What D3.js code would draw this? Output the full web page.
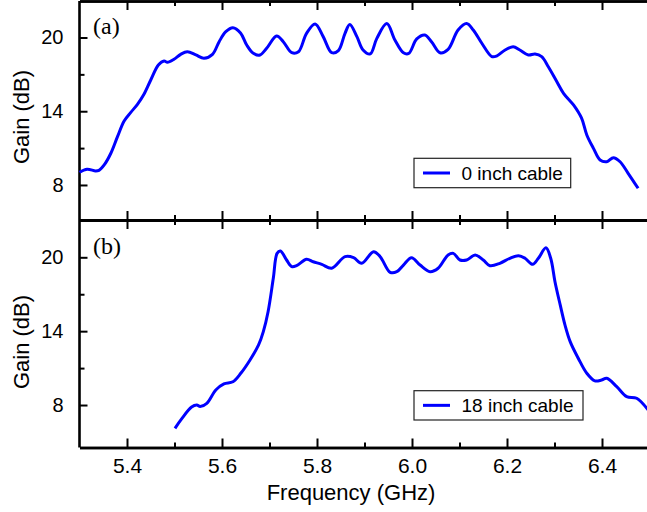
<!DOCTYPE html>
<html><head><meta charset="utf-8">
<script src="https://cdn.jsdelivr.net/npm/d3@7"></script>
<style>body{margin:0;background:#fff}</style>
</head><body><svg id="c" width="647" height="512"></svg>
<script>
// ---- data ----
const freqA = [5.300,5.316,5.334,5.341,5.352,5.366,5.380,5.394,5.408,5.422,5.436,5.450,5.466,5.478,5.485,5.499,5.513,5.527,5.545,5.562,5.580,5.594,5.608,5.623,5.639,5.652,5.666,5.680,5.694,5.715,5.729,5.747,5.761,5.778,5.796,5.813,5.831,5.845,5.859,5.869,5.884,5.897,5.912,5.926,5.947,5.964,5.982,5.993,6.010,6.027,6.041,6.059,6.076,6.097,6.115,6.129,6.147,6.168,6.178,6.196,6.213,6.227,6.245,6.259,6.273,6.287,6.305,6.319,6.340,6.357,6.368,6.382,6.396,6.410,6.424,6.438,6.455,6.476];
const gainA = [9.03,9.28,9.14,9.19,9.63,10.58,11.93,13.21,13.91,14.56,15.40,16.54,17.76,18.09,17.98,18.23,18.63,18.84,18.58,18.31,18.63,19.66,20.47,20.80,20.37,19.39,18.71,18.58,19.12,20.12,19.66,18.76,18.84,20.34,21.10,20.07,18.76,18.93,20.34,21.06,20.07,18.98,18.66,19.93,21.14,19.80,18.76,18.70,19.88,20.20,19.66,18.76,19.04,20.61,21.14,20.61,19.53,18.45,18.49,18.98,19.25,18.98,18.58,18.66,18.44,17.62,16.40,15.46,14.51,13.43,12.07,10.98,10.03,9.89,10.22,9.89,8.95,7.73];
const freqB = [5.501,5.515,5.536,5.547,5.554,5.568,5.587,5.604,5.623,5.640,5.659,5.677,5.687,5.697,5.708,5.716,5.723,5.736,5.747,5.757,5.778,5.792,5.810,5.831,5.859,5.877,5.894,5.919,5.933,5.954,5.968,5.982,5.999,6.017,6.038,6.055,6.076,6.087,6.101,6.115,6.133,6.150,6.164,6.185,6.206,6.224,6.238,6.254,6.266,6.282,6.292,6.301,6.312,6.322,6.333,6.350,6.368,6.385,6.399,6.410,6.431,6.452,6.473,6.497];
const gainB = [6.11,6.88,7.84,8.00,7.88,8.14,9.22,9.71,9.89,10.60,11.66,12.88,13.96,15.58,18.29,20.32,20.51,19.78,19.24,19.32,19.84,19.64,19.43,19.11,20.05,19.97,19.51,20.45,20.05,18.78,18.83,19.37,19.97,19.37,18.83,19.11,20.19,20.32,19.78,19.78,20.19,19.78,19.32,19.51,19.92,20.13,19.92,19.43,19.92,20.77,19.92,18.02,16.13,14.51,13.15,11.80,10.58,9.96,10.03,10.17,9.49,8.68,8.55,7.60];
const xMajor = [5.4,5.6,5.8,6.0,6.2,6.4];
const xMinor = [5.5,5.7,5.9,6.1,6.3];
const yMajor = [8,14,20];
const yMinor = [11,17];
const panelLabels = ["(a)","(b)"];
const legendLabels = ["0 inch cable","18 inch cable"];
const xTitle = "Frequency (GHz)";
const yTitle = "Gain (dB)";

// ---- layout ----
const svg = d3.select("#c");
const FONT = "'Liberation Sans', Arial, Helvetica, sans-serif";
const BLUE = "#0000ff";
const x = d3.scaleLinear().domain([5.3, 6.5]).range([79.5, 649.5]);
const panels = [
  {top: 1, bottom: 220, yd: [5.15, 23.05], yr: [220, 0], f: freqA, g: gainA,
   label: panelLabels[0], labY: 33.5, leg: legendLabels[0], legBox:[414,158.3,156.7,29.4], titleY: 117},
  {top: 220, bottom: 447.5, yd: [4.55, 23.03], yr: [447.5, 220], f: freqB, g: gainB,
   label: panelLabels[1], labY: 254, leg: legendLabels[1], legBox:[414,390.7,169,29.3], titleY: 342}
];

function styleAxis(g, w) {
  g.selectAll(".domain").attr("stroke", "#000").attr("stroke-width", 2.6);
  g.selectAll(".tick line").attr("stroke", "#000").attr("stroke-width", w);
  g.selectAll("text").attr("font-family", FONT).attr("fill", "#000");
}

panels.forEach((p, i) => {
  const y = d3.scaleLinear().domain(p.yd).range(p.yr);
  const isBottom = i === panels.length - 1;

  const gb = svg.append("g").attr("transform", `translate(0,${p.bottom})`)
    .call(d3.axisBottom(x).tickValues(xMajor).tickSize(-9).tickSizeOuter(0).tickPadding(11)
      .tickFormat(isBottom ? d3.format(".1f") : () => ""));
  styleAxis(gb, 2);
  gb.selectAll("text").attr("font-size", 21);
  const gbm = svg.append("g").attr("transform", `translate(0,${p.bottom})`)
    .call(d3.axisBottom(x).tickValues(xMinor).tickSize(-5).tickSizeOuter(0).tickFormat(() => ""));
  styleAxis(gbm, 2);

  const gt = svg.append("g").attr("transform", `translate(0,${p.top})`)
    .call(d3.axisTop(x).tickValues(xMajor).tickSize(-9).tickSizeOuter(0).tickFormat(() => ""));
  styleAxis(gt, 2);
  const gtm = svg.append("g").attr("transform", `translate(0,${p.top})`)
    .call(d3.axisTop(x).tickValues(xMinor).tickSize(-5).tickSizeOuter(0).tickFormat(() => ""));
  styleAxis(gtm, 2);

  const gl = svg.append("g").attr("transform", `translate(${x(5.3)},0)`)
    .call(d3.axisLeft(y).tickValues(yMajor).tickSize(-8).tickSizeOuter(0).tickPadding(16));
  styleAxis(gl, 2);
  gl.selectAll("text").attr("font-size", 20);
  gl.select(".domain").attr("d", `M0,${p.top}V${p.bottom}`);
  const glm = svg.append("g").attr("transform", `translate(${x(5.3)},0)`)
    .call(d3.axisLeft(y).tickValues(yMinor).tickSize(-5).tickSizeOuter(0).tickFormat(() => ""));
  styleAxis(glm, 2);
  glm.select(".domain").remove();

  const gr = svg.append("g").attr("transform", `translate(${x(6.5)},0)`)
    .call(d3.axisRight(y).tickValues([]).tickSizeOuter(0));
  styleAxis(gr, 2);

  svg.append("text").attr("transform", `translate(29,${p.titleY}) rotate(-90)`)
    .attr("text-anchor", "middle").attr("font-family", FONT).attr("font-size", 22)
    .attr("fill", "#000").text(yTitle);

  const data = p.f.map((f, k) => [f, p.g[k]]);
  const line = d3.line().x(d => x(d[0])).y(d => y(d[1])).curve(d3.curveCatmullRom.alpha(0.5));
  svg.append("path").datum(data).attr("d", line).attr("fill", "none")
    .attr("stroke", BLUE).attr("stroke-width", 3).attr("stroke-linejoin", "round");

  svg.append("text").attr("x", 93).attr("y", p.labY)
    .attr("font-family", "'Liberation Serif', 'Times New Roman', serif").attr("font-size", 24)
    .attr("fill", "#000").text(p.label);

  const [lx, ly, lw, lh] = p.legBox;
  svg.append("rect").attr("x", lx).attr("y", ly).attr("width", lw).attr("height", lh)
    .attr("fill", "#fff").attr("stroke", "#222").attr("stroke-width", 1.2);
  svg.append("line").attr("x1", lx + 9).attr("x2", lx + 36).attr("y1", ly + lh / 2).attr("y2", ly + lh / 2)
    .attr("stroke", BLUE).attr("stroke-width", 3);
  svg.append("text").attr("x", lx + 47.5).attr("y", ly + lh / 2 + 6.5)
    .attr("font-family", FONT).attr("font-size", 19).attr("fill", "#000").text(p.leg);
});

svg.append("text").attr("x", 351).attr("y", 500).attr("text-anchor", "middle")
  .attr("font-family", FONT).attr("font-size", 22).attr("fill", "#000").text(xTitle);
</script></body></html>
